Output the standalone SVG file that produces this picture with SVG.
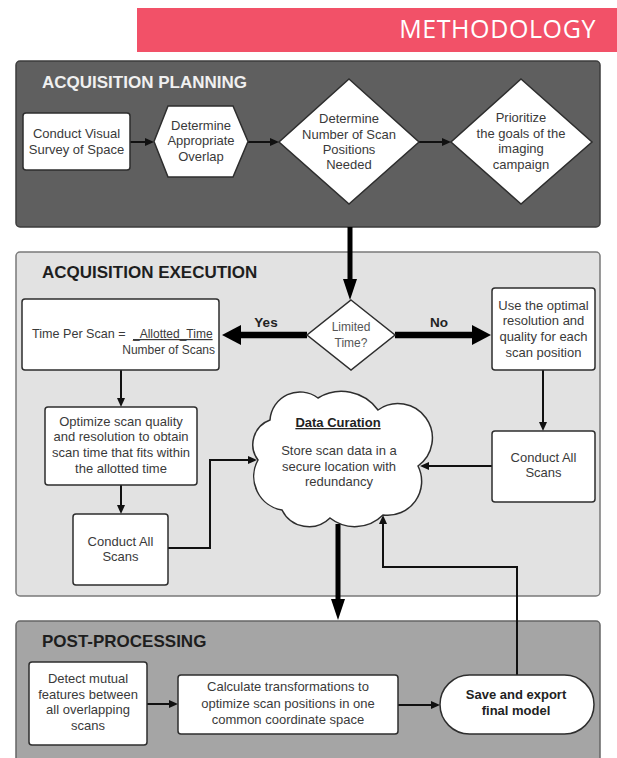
<svg xmlns="http://www.w3.org/2000/svg" width="617" height="758" viewBox="0 0 617 758">
<style>
.node{fill:#ffffff;stroke:#2e2e2e;stroke-width:1.5}
.t{font-family:"Liberation Sans",Arial,sans-serif;font-size:13px;fill:#3a3a3a;text-anchor:middle}
.ts{font-family:"Liberation Sans",Arial,sans-serif;font-size:12px;fill:#3a3a3a}
.b{font-family:"Liberation Sans",Arial,sans-serif;font-weight:bold;fill:#222}
.hdr{font-family:"Liberation Sans",Arial,sans-serif;font-weight:bold;font-size:17px}
.thin{fill:none;stroke:#111;stroke-width:2}
.thick{fill:none;stroke:#000;stroke-width:5}
.fat{fill:none;stroke:#000;stroke-width:6.5}
</style>
<defs>
<marker id="ah" markerUnits="userSpaceOnUse" markerWidth="9" markerHeight="8" refX="0" refY="4" orient="auto"><path d="M0,0 L9,4 L0,8 z" fill="#111"/></marker>
<marker id="ahMid" markerUnits="userSpaceOnUse" markerWidth="21" markerHeight="14" refX="0" refY="7" orient="auto"><path d="M0,0 L21,7 L0,14 z" fill="#000"/></marker>
<marker id="ahBig" markerUnits="userSpaceOnUse" markerWidth="19" markerHeight="20" refX="0" refY="10" orient="auto"><path d="M0,0 L19,10 L0,20 z" fill="#000"/></marker>
</defs>
<rect width="617" height="758" fill="#ffffff"/>

<g id="banner">
<rect x="137" y="8" width="480" height="44" fill="#f25168"/>
<text x="596" y="38" font-family="'Open Sans',sans-serif" font-size="25" fill="#ffffff" text-anchor="end" letter-spacing="0.6">METHODOLOGY</text>
</g>

<g id="panel-planning">
<rect x="16" y="61" width="584" height="166" rx="4" fill="#5f5f5f" stroke="#3d3d3d" stroke-width="1.5"/>
<text class="hdr" x="42" y="88" fill="#f0f0f0">ACQUISITION PLANNING</text>
</g>
<g id="panel-execution">
<rect x="16" y="252" width="584" height="344" rx="4" fill="#e2e2e2" stroke="#7a7a7a" stroke-width="1.5"/>
<text class="hdr" x="42" y="278" fill="#1e1e1e">ACQUISITION EXECUTION</text>
</g>
<g id="panel-post">
<rect x="16" y="621" width="584" height="150" rx="4" fill="#a5a5a5" stroke="#666" stroke-width="1.5"/>
<text class="hdr" x="42" y="647" fill="#1e1e1e">POST-PROCESSING</text>
</g>

<g id="connectors">
<path class="thin" d="M130,142 H145" marker-end="url(#ah)"/>
<path class="thin" d="M248,142 H270" marker-end="url(#ah)"/>
<path class="thin" d="M419,142 H442" marker-end="url(#ah)"/>
<path class="thick" d="M350,227 V279" marker-end="url(#ahMid)"/>
<path class="fat" d="M307,335 H241" marker-end="url(#ahBig)"/>
<path class="fat" d="M395,335 H472" marker-end="url(#ahBig)"/>
<path class="thin" d="M121,370 V398" marker-end="url(#ah)"/>
<path class="thin" d="M121,485 V505" marker-end="url(#ah)"/>
<path class="thin" d="M168,548 H210 V460 H248" marker-end="url(#ah)"/>
<path class="thin" d="M543,370 V422" marker-end="url(#ah)"/>
<path class="thin" d="M492,466 H429" marker-end="url(#ah)"/>
<path class="thick" d="M338,524 V599" marker-end="url(#ahMid)"/>
<path class="thin" d="M147,704 H169" marker-end="url(#ah)"/>
<path class="thin" d="M398,705 H431" marker-end="url(#ah)"/>
<path class="thin" d="M517,675 V567 H383 V524" marker-end="url(#ah)"/>
</g>

<g id="n-survey">
<rect class="node" x="23" y="113" width="107" height="57" rx="3"/>
<text class="t" x="76.5" y="137.5">Conduct Visual</text>
<text class="t" x="76.5" y="153.5">Survey of Space</text>
</g>
<g id="n-overlap">
<polygon class="node" points="154,141.5 168,106 233,106 248,141.5 233,177 168,177"/>
<text class="t" x="201" y="129.5">Determine</text>
<text class="t" x="201" y="144.5">Appropriate</text>
<text class="t" x="201" y="160.5">Overlap</text>
</g>
<g id="n-positions">
<polygon class="node" points="349,79 419,142 349,204 279,142"/>
<text class="t" x="349" y="122.5">Determine</text>
<text class="t" x="349" y="138.5">Number of Scan</text>
<text class="t" x="349" y="153.5">Positions</text>
<text class="t" x="349" y="168.5">Needed</text>
</g>
<g id="n-goals">
<polygon class="node" points="521,79 592,142 521,204 451,142"/>
<text class="t" x="521" y="121.5">Prioritize</text>
<text class="t" x="521" y="137.5">the goals of the</text>
<text class="t" x="521" y="152.5">imaging</text>
<text class="t" x="521" y="168.5">campaign</text>
</g>

<g id="n-limited">
<polygon class="node" points="351,300 395,335 351,370 307,335"/>
<text class="ts" x="351" y="331" style="text-anchor:middle;fill:#555">Limited</text>
<text class="ts" x="351" y="347" style="text-anchor:middle;fill:#555">Time?</text>
</g>
<g id="labels">
<text class="b" x="266" y="327" font-size="13.5" text-anchor="middle">Yes</text>
<text class="b" x="439" y="327" font-size="13.5" text-anchor="middle">No</text>
</g>
<g id="n-timeper">
<rect class="node" x="22" y="299" width="197" height="71" rx="3"/>
<text class="ts" x="32" y="338" style="font-size:12.6px">Time Per Scan =</text>
<text class="ts" x="133" y="338" text-decoration="underline">_Allotted_Time</text>
<text class="ts" x="215" y="354" text-anchor="end">Number of Scans</text>
</g>
<g id="n-optimal">
<rect class="node" x="492" y="288" width="103" height="82" rx="3"/>
<text class="t" x="543.5" y="309.5">Use the optimal</text>
<text class="t" x="543.5" y="324.5">resolution and</text>
<text class="t" x="543.5" y="340.5">quality for each</text>
<text class="t" x="543.5" y="356.5">scan position</text>
</g>
<g id="n-optimize">
<rect class="node" x="45" y="407" width="152" height="78" rx="3"/>
<text class="t" x="121" y="425.5">Optimize scan quality</text>
<text class="t" x="121" y="440.5">and resolution to obtain</text>
<text class="t" x="121" y="456.5">scan time that fits within</text>
<text class="t" x="121" y="472.5">the allotted time</text>
</g>
<g id="n-conduct-left">
<rect class="node" x="73" y="514" width="95" height="71" rx="3"/>
<text class="t" x="120.5" y="545.5">Conduct All</text>
<text class="t" x="120.5" y="560.5">Scans</text>
</g>
<g id="n-conduct-right">
<rect class="node" x="492" y="431" width="103" height="71" rx="3"/>
<text class="t" x="543.5" y="461.5">Conduct All</text>
<text class="t" x="543.5" y="476.5">Scans</text>
</g>
<g id="n-cloud">
<path class="node" d="M258,460 A26,26 0 0 1 270,420 A30,30 0 0 1 318,398 A45,45 0 0 1 378,410 A34,34 0 0 1 418,466 A34,34 0 0 1 383,515 A40,40 0 0 1 330,518 A30,30 0 0 1 282,510 A34,34 0 0 1 258,460 z"/>
<text class="b" x="338" y="427" font-size="13" text-anchor="middle" text-decoration="underline">Data Curation</text>
<text class="t" x="339" y="454.5">Store scan data in a</text>
<text class="t" x="339" y="470.5">secure location with</text>
<text class="t" x="339" y="485.5">redundancy</text>
</g>

<g id="n-detect">
<rect class="node" x="29" y="662" width="118" height="83" rx="3"/>
<text class="t" x="88" y="682.5">Detect mutual</text>
<text class="t" x="88" y="698.5">features between</text>
<text class="t" x="88" y="713.5">all overlapping</text>
<text class="t" x="88" y="729.5">scans</text>
</g>
<g id="n-calculate">
<rect class="node" x="178" y="675" width="220" height="59" rx="3"/>
<text class="t" x="288" y="690.5">Calculate transformations to</text>
<text class="t" x="288" y="707.5">optimize scan positions in one</text>
<text class="t" x="288" y="723.5">common coordinate space</text>
</g>
<g id="n-save">
<rect class="node" x="440" y="675" width="154" height="59" rx="29.5"/>
<text class="b" x="516" y="698.5" font-size="13" text-anchor="middle">Save and export</text>
<text class="b" x="516" y="714.5" font-size="13" text-anchor="middle">final model</text>
</g>
</svg>
